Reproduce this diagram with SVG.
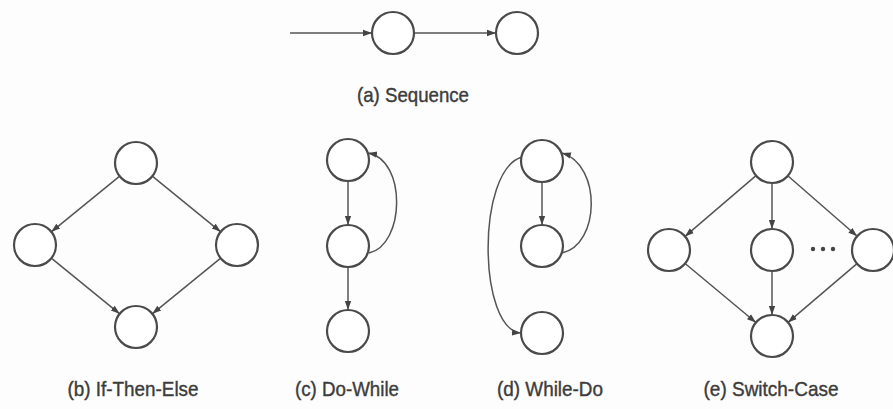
<svg xmlns="http://www.w3.org/2000/svg" width="893" height="409" viewBox="0 0 893 409">
<defs>
<marker id="arr" viewBox="0 0 10 10" refX="10" refY="5" markerWidth="9" markerHeight="9" markerUnits="userSpaceOnUse" orient="auto">
<path d="M0,1.5 L10,5 L0,8.5 z" fill="#444"/>
</marker>
<style>
.n{fill:#fff;stroke:#4a4a4a;stroke-width:2.2}
.e{fill:none;stroke:#555;stroke-width:1.5;marker-end:url(#arr)}
.t{font-family:"Liberation Sans",Arial,sans-serif;font-size:21px;fill:#3c3c3c;stroke:#3c3c3c;stroke-width:0.4;text-anchor:middle}
.d{fill:#444}
</style>
</defs>
<rect width="893" height="409" fill="#fdfdfd"/>
<g id="connectors">
<line class="e" x1="290" y1="33" x2="372" y2="33"/>
<line class="e" x1="414" y1="33" x2="496" y2="33"/>
<line class="e" x1="119.7" y1="176.2" x2="51.3" y2="231.8"/>
<line class="e" x1="152.3" y1="176.2" x2="220.7" y2="231.8"/>
<line class="e" x1="51.3" y1="258.2" x2="119.7" y2="313.8"/>
<line class="e" x1="220.7" y1="258.2" x2="152.3" y2="313.8"/>
<line class="e" x1="348" y1="181" x2="348" y2="225"/>
<line class="e" x1="348" y1="267" x2="348" y2="310"/>
<path class="e" d="M369,253 C405,245 407,160 368,153"/>
<line class="e" x1="542" y1="182" x2="542" y2="225"/>
<path class="e" d="M562,253 C600,245 602,165 562,153"/>
<path class="e" d="M522,157 C476,170 478,330 521,333"/>
<line class="e" x1="756" y1="175.6" x2="685" y2="236.4"/>
<line class="e" x1="772" y1="183" x2="772" y2="229"/>
<line class="e" x1="787.8" y1="175.8" x2="857.2" y2="236.2"/>
<line class="e" x1="685.1" y1="263.5" x2="755.9" y2="322.5"/>
<line class="e" x1="772" y1="271" x2="772" y2="315"/>
<line class="e" x1="857" y1="263.6" x2="788" y2="322.4"/>
</g>
<g id="a1"><circle class="n" cx="393" cy="33" r="21"/></g>
<g id="a2"><circle class="n" cx="517" cy="33" r="21"/></g>
<g id="b-top"><circle class="n" cx="136" cy="163" r="21"/></g>
<g id="b-left"><circle class="n" cx="35" cy="245" r="21"/></g>
<g id="b-right"><circle class="n" cx="237" cy="245" r="21"/></g>
<g id="b-bottom"><circle class="n" cx="136" cy="327" r="21"/></g>
<g id="c-top"><circle class="n" cx="348" cy="160" r="21"/></g>
<g id="c-mid"><circle class="n" cx="348" cy="246" r="21"/></g>
<g id="c-bottom"><circle class="n" cx="348" cy="331" r="21"/></g>
<g id="d-top"><circle class="n" cx="542" cy="161" r="21"/></g>
<g id="d-mid"><circle class="n" cx="542" cy="246" r="21"/></g>
<g id="d-bottom"><circle class="n" cx="542" cy="333" r="21"/></g>
<g id="e-top"><circle class="n" cx="772" cy="162" r="21"/></g>
<g id="e-left"><circle class="n" cx="669" cy="250" r="21"/></g>
<g id="e-mid"><circle class="n" cx="772" cy="250" r="21"/></g>
<g id="e-right"><circle class="n" cx="873" cy="250" r="21"/></g>
<g id="e-bottom"><circle class="n" cx="772" cy="336" r="21"/></g>
<g id="e-dots"><circle class="d" cx="813" cy="249" r="2.2"/><circle class="d" cx="823" cy="249" r="2.2"/><circle class="d" cx="833" cy="249" r="2.2"/></g>
<g id="labels">
<text class="t" x="413" y="102" textLength="112" lengthAdjust="spacingAndGlyphs">(a) Sequence</text>
<text class="t" x="133" y="396" textLength="131" lengthAdjust="spacingAndGlyphs">(b) If-Then-Else</text>
<text class="t" x="347" y="396" textLength="104" lengthAdjust="spacingAndGlyphs">(c) Do-While</text>
<text class="t" x="550" y="396" textLength="106" lengthAdjust="spacingAndGlyphs">(d) While-Do</text>
<text class="t" x="771" y="396" textLength="135" lengthAdjust="spacingAndGlyphs">(e) Switch-Case</text>
</g>
</svg>
